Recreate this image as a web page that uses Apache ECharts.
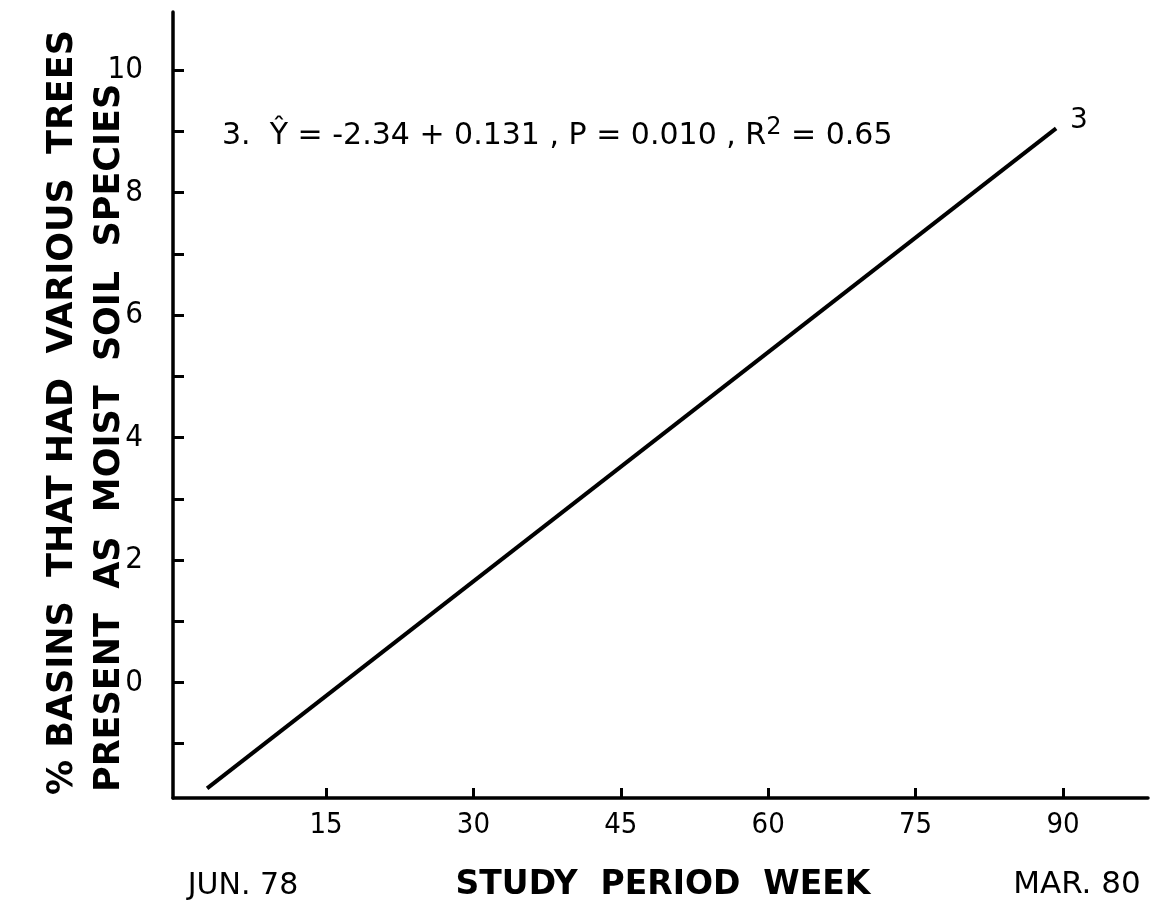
<!DOCTYPE html>
<html>
<head>
<meta charset="utf-8">
<script src="https://cdn.jsdelivr.net/npm/echarts@6/dist/echarts.min.js"></script>
<style>html,body{margin:0;padding:0;background:#fff}#c{width:1154px;height:904px}</style>
</head>
<body>
<div id="c"></div>
<script>
// Data
const weeks = [2.9, 89.3];            // study period week (line ends)
const fitted = [-1.73, 9.05];         // fitted % basins (line ends)
const xTickValues = [15, 30, 45, 60, 75, 90];
const yTickValues = [-1, 0, 1, 2, 3, 4, 5, 6, 7, 8, 9, 10];
const yLabelValues = [0, 2, 4, 6, 8, 10];
const lineName = '3';
const yTitle1 = '% BASINS  THAT HAD  VARIOUS  TREES';
const yTitle2 = 'PRESENT  AS  MOIST  SOIL  SPECIES';
const xTitle = 'STUDY  PERIOD  WEEK';
const startLabel = 'JUN. 78';
const endLabel = 'MAR. 80';

const chart = echarts.init(document.getElementById('c'));
const ink = '#000';
const font = '"DejaVu Sans", "Liberation Sans", sans-serif';
const tickFont = '"Liberation Sans Narrow", "DejaVu Sans Condensed", "DejaVu Sans", sans-serif';

chart.setOption({
  backgroundColor: '#fff',
  animation: false,
  grid: { left: 173, top: 12, right: 6, bottom: 106 },
  xAxis: {
    type: 'value', min: -0.57, max: 98.65,
    axisLine: { onZero: false, lineStyle: { color: ink, width: 3.5 } },
    axisTick: { inside: true, length: 10, customValues: xTickValues, lineStyle: { color: ink, width: 3 } },
    axisLabel: { customValues: xTickValues, color: ink, fontSize: 29, fontFamily: tickFont, margin: 13 },
    splitLine: { show: false }
  },
  yAxis: {
    type: 'value', min: -1.886, max: 10.95,
    axisLine: { onZero: false, lineStyle: { color: ink, width: 3.5 } },
    axisTick: { inside: true, length: 11, customValues: yTickValues, lineStyle: { color: ink, width: 3 } },
    axisLabel: { customValues: yLabelValues, color: ink, fontSize: 31, fontFamily: tickFont, margin: 30 },
    splitLine: { show: false }
  },
  series: [{
    type: 'line',
    data: weeks.map((w, i) => [w, fitted[i]]),
    showSymbol: false,
    symbol: 'none',
    lineStyle: { color: ink, width: 4 },
    endLabel: { show: true, formatter: lineName, color: ink, fontSize: 28, fontFamily: font, offset: [6, -8] }
  }],
  graphic: [
    { type: 'text', x: 63, y: 795, rotation: Math.PI / 2,
      style: { text: yTitle1, fill: ink, font: 'bold 35px ' + font, textAlign: 'left', textVerticalAlign: 'middle' } },
    { type: 'text', x: 110, y: 792, rotation: Math.PI / 2,
      style: { text: yTitle2, fill: ink, font: 'bold 35px ' + font, textAlign: 'left', textVerticalAlign: 'middle' } },
    { type: 'text', x: 243, y: 886,
      style: { text: startLabel, fill: ink, font: '30px ' + font, textAlign: 'center', textVerticalAlign: 'middle' } },
    { type: 'text', x: 663, y: 885,
      style: { text: xTitle, fill: ink, font: 'bold 33px ' + font, textAlign: 'center', textVerticalAlign: 'middle' } },
    { type: 'text', x: 1077, y: 885,
      style: { text: endLabel, fill: ink, font: '31px ' + font, textAlign: 'center', textVerticalAlign: 'middle' } },
    { type: 'text', x: 222, y: 136,
      style: {
        text: '3.  Ŷ = -2.34 + 0.131 , P = 0.010 , R{sup|2} = 0.65',
        fill: ink, font: '30px ' + font, textAlign: 'left', textVerticalAlign: 'middle',
        rich: { sup: { fontSize: 24, fontFamily: font, fill: ink, padding: [0, 0, 16, 0] } }
      } }
  ]
});
</script>
</body>
</html>
